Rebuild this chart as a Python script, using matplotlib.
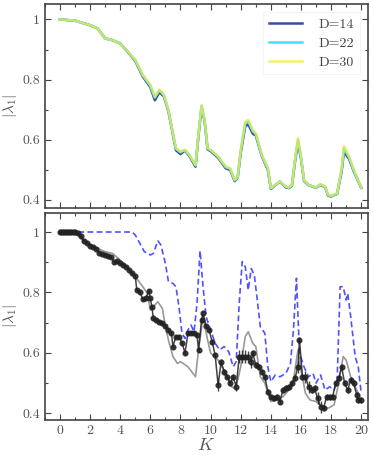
import numpy as np
import matplotlib
matplotlib.use("Agg")
import matplotlib.pyplot as plt
from matplotlib.ticker import MultipleLocator, FixedLocator

plt.rcParams['font.family'] = 'serif'
plt.rcParams['font.serif'] = ['cmr10', 'DejaVu Serif']
plt.rcParams['mathtext.fontset'] = 'cm'
plt.rcParams['axes.formatter.use_mathtext'] = True

# ---------------- top panel data ----------------
K_top = [0, 1, 2, 2.5, 3, 3.5, 4, 4.5, 5, 5.5, 6, 6.3, 6.6, 6.9, 7.2, 7.5, 7.7, 8, 8.3, 8.6,
         9, 9.2, 9.4, 9.6, 9.8, 10, 10.5, 11, 11.3, 11.6, 11.8, 12, 12.3, 12.5, 12.8, 13, 13.4,
         13.8, 14, 14.3, 14.6, 15, 15.2, 15.4, 15.6, 15.8, 16, 16.2, 16.5, 17, 17.3, 17.6, 17.8,
         18, 18.4, 18.7, 18.85, 19.2, 19.5, 20]
D30 = [1.0, 0.996, 0.981, 0.970, 0.937, 0.931, 0.920, 0.893, 0.865, 0.815, 0.782, 0.743, 0.767,
       0.749, 0.699, 0.621, 0.572, 0.560, 0.566, 0.549, 0.516, 0.621, 0.715, 0.666, 0.572, 0.566,
       0.544, 0.511, 0.505, 0.466, 0.477, 0.566, 0.660, 0.666, 0.632, 0.621, 0.549, 0.505, 0.439,
       0.450, 0.461, 0.444, 0.441, 0.450, 0.533, 0.605, 0.544, 0.466, 0.450, 0.441, 0.452, 0.444,
       0.417, 0.413, 0.422, 0.505, 0.579, 0.544, 0.500, 0.441]
D22 = [1.0, 0.996, 0.981, 0.970, 0.937, 0.931, 0.920, 0.893, 0.865, 0.814, 0.780, 0.740, 0.765,
       0.748, 0.698, 0.620, 0.570, 0.558, 0.566, 0.548, 0.514, 0.620, 0.713, 0.665, 0.571, 0.565,
       0.543, 0.509, 0.503, 0.465, 0.476, 0.563, 0.655, 0.661, 0.628, 0.619, 0.548, 0.504, 0.438,
       0.450, 0.461, 0.443, 0.440, 0.449, 0.530, 0.600, 0.542, 0.465, 0.450, 0.441, 0.451, 0.443,
       0.416, 0.412, 0.421, 0.500, 0.572, 0.540, 0.498, 0.441]
D14 = [1.0, 0.996, 0.981, 0.970, 0.937, 0.931, 0.920, 0.892, 0.862, 0.810, 0.775, 0.731, 0.758,
       0.744, 0.695, 0.617, 0.565, 0.552, 0.564, 0.545, 0.510, 0.615, 0.708, 0.662, 0.568, 0.562,
       0.540, 0.505, 0.499, 0.462, 0.474, 0.556, 0.645, 0.651, 0.620, 0.614, 0.545, 0.500, 0.436,
       0.449, 0.460, 0.441, 0.439, 0.447, 0.525, 0.590, 0.538, 0.463, 0.449, 0.440, 0.450, 0.442,
       0.414, 0.411, 0.420, 0.495, 0.560, 0.535, 0.495, 0.440]

# ---------------- bottom panel data ----------------
K_blue = [0, 1, 4.8, 5, 5.3, 5.6, 6, 6.2, 6.5, 6.7, 7, 7.2, 7.5, 7.7, 7.9, 8.1, 8.3, 8.5, 8.7, 8.9,
          9.1, 9.3, 9.5, 9.7, 10, 10.3, 10.6, 10.9, 11.2, 11.5, 11.7, 11.9, 12.1, 12.3, 12.5, 12.7,
          12.9, 13.1, 13.3, 13.6, 13.8, 14, 14.3, 14.6, 15, 15.3, 15.5, 15.7, 15.9, 16.2, 16.5,
          16.8, 17, 17.3, 17.6, 17.9, 18.2, 18.4, 18.6, 18.8, 19, 19.1, 19.3, 19.6, 19.8, 20]
blue = [1.0, 1.0, 1.0, 0.990, 0.963, 0.935, 0.924, 0.929, 0.971, 0.957, 0.896, 0.836, 0.830, 0.819,
        0.753, 0.665, 0.648, 0.676, 0.692, 0.670, 0.764, 0.938, 0.819, 0.720, 0.676, 0.632, 0.610,
        0.621, 0.604, 0.554, 0.571, 0.764, 0.902, 0.885, 0.808, 0.879, 0.858, 0.775, 0.687, 0.665,
        0.554, 0.505, 0.527, 0.521, 0.532, 0.565, 0.676, 0.847, 0.600, 0.554, 0.521, 0.532, 0.500,
        0.527, 0.477, 0.488, 0.477, 0.510, 0.819, 0.819, 0.775, 0.797, 0.720, 0.587, 0.554, 0.466]

K_gray = [0, 1, 1.5, 2, 2.5, 3, 3.5, 4, 4.5, 5, 5.5, 5.8, 6, 6.2, 6.5, 6.8, 7, 7.2, 7.5, 7.8, 8,
          8.5, 9, 9.2, 9.5, 9.8, 10, 10.5, 11, 11.4, 11.6, 11.8, 12, 12.3, 12.5, 12.8, 13, 13.3,
          13.6, 14, 14.4, 14.8, 15.2, 15.5, 15.8, 16, 16.3, 16.6, 17, 17.4, 17.8, 18.2, 18.5, 18.8,
          19, 19.3, 19.7, 20]
gray = [1.0, 1.0, 0.974, 0.957, 0.946, 0.935, 0.929, 0.907, 0.880, 0.852, 0.819, 0.797, 0.742,
        0.753, 0.769, 0.747, 0.687, 0.643, 0.588, 0.565, 0.571, 0.554, 0.521, 0.610, 0.720, 0.643,
        0.600, 0.576, 0.532, 0.488, 0.483, 0.510, 0.554, 0.654, 0.670, 0.632, 0.621, 0.521, 0.500,
        0.439, 0.444, 0.455, 0.477, 0.510, 0.610, 0.543, 0.466, 0.444, 0.439, 0.422, 0.417, 0.428,
        0.500, 0.588, 0.576, 0.521, 0.477, 0.444]

K_black = [0, 0.1, 0.2, 0.3, 0.4, 0.5, 0.6, 0.7, 0.8, 0.9, 1.0, 1.2, 1.4, 1.6, 1.8, 2.0, 2.2, 2.4,
           2.6, 2.8, 3.0, 3.2, 3.4, 3.6, 3.8, 4.0, 4.2, 4.4, 4.6, 4.8, 5.0, 5.1, 5.3, 5.5, 5.7, 5.9,
           6.0, 6.1, 6.2, 6.4, 6.6, 6.8, 7.0, 7.2, 7.4, 7.5, 7.7, 7.9, 8.1, 8.3, 8.5, 8.7, 8.9, 9.1,
           9.2, 9.4, 9.5, 9.7, 9.9, 10.1, 10.3, 10.5, 10.7, 10.9, 11.1, 11.3, 11.5, 11.7, 11.9, 12.1,
           12.3, 12.5, 12.7, 12.8, 13.0, 13.2, 13.4, 13.6, 13.8, 14.0, 14.2, 14.4, 14.6, 14.8, 15.0,
           15.2, 15.4, 15.6, 15.8, 15.9, 16.1, 16.3, 16.5, 16.7, 16.9, 17.1, 17.3, 17.5, 17.7, 17.9,
           18.1, 18.3, 18.5, 18.7, 18.9, 19.1, 19.3, 19.5, 19.7, 19.8, 20.0]
black = [1.0, 1.0, 1.0, 1.0, 1.0, 1.0, 1.0, 1.0, 1.0, 1.0, 1.0, 0.996, 0.987, 0.971, 0.965, 0.954,
         0.949, 0.943, 0.932, 0.927, 0.924, 0.921, 0.916, 0.902, 0.905, 0.896, 0.891, 0.885, 0.874,
         0.865, 0.854, 0.808, 0.803, 0.777, 0.780, 0.806, 0.780, 0.753, 0.714, 0.709, 0.703, 0.698,
         0.689, 0.676, 0.665, 0.621, 0.654, 0.654, 0.634, 0.600, 0.665, 0.667, 0.665, 0.659, 0.610,
         0.709, 0.731, 0.689, 0.676, 0.637, 0.593, 0.494, 0.571, 0.538, 0.521, 0.499, 0.521, 0.488,
         0.588, 0.588, 0.588, 0.585, 0.571, 0.599, 0.560, 0.554, 0.538, 0.521, 0.472, 0.455, 0.450,
         0.455, 0.439, 0.477, 0.483, 0.488, 0.499, 0.516, 0.554, 0.643, 0.521, 0.521, 0.488, 0.477,
         0.483, 0.450, 0.422, 0.417, 0.455, 0.455, 0.455, 0.499, 0.516, 0.554, 0.499, 0.477, 0.510,
         0.499, 0.461, 0.444, 0.444]
black_err = [0.0] * 11 + [0.003] * 20 + [0.006] * 30 + [0.02, 0.01, 0.01, 0.008, 0.01, 0.01,
             0.015, 0.02, 0.02, 0.02, 0.02, 0.02, 0.01, 0.01, 0.008, 0.01, 0.01, 0.01, 0.008,
             0.008, 0.01, 0.008, 0.01, 0.01, 0.01, 0.01, 0.01, 0.02, 0.01, 0.01, 0.02, 0.02,
             0.01, 0.01, 0.02, 0.02, 0.01, 0.01, 0.01, 0.01, 0.01, 0.01, 0.01, 0.01, 0.01, 0.01,
             0.01, 0.01, 0.01, 0.01]
black_err = black_err[:len(black)] + [0.01] * max(0, len(black) - len(black_err))

fig = plt.figure(figsize=(3.74, 4.58), dpi=100)
ax1 = fig.add_axes([0.120, 0.546, 0.864, 0.445])
ax2 = fig.add_axes([0.120, 0.083, 0.864, 0.452])

spine_col = '#444444'
tick_col = '#555555'

def style(ax, ylim):
    ax.set_xlim(-1.0, 20.45)
    ax.set_ylim(*ylim)
    ax.xaxis.set_major_locator(MultipleLocator(2))
    ax.xaxis.set_minor_locator(MultipleLocator(1))
    ax.yaxis.set_major_locator(FixedLocator([0.4, 0.6, 0.8, 1.0]))
    ax.yaxis.set_minor_locator(MultipleLocator(0.1))
    ax.tick_params(which='both', direction='in', top=True, right=True, color=spine_col,
                   labelcolor=tick_col, labelsize=10, width=0.8)
    ax.tick_params(which='major', length=4)
    ax.tick_params(which='minor', length=2.5)
    for s in ax.spines.values():
        s.set_color(spine_col)
        s.set_linewidth(1.2)
    ax.set_yticklabels(['0.4', '0.6', '0.8', '1'])
    ax.set_ylabel(r'$|\lambda_1|$', fontsize=11, color=tick_col, labelpad=2)

style(ax1, (0.373, 1.051))
style(ax2, (0.378, 1.063))

ax1.plot(K_top, D14, color='#3d4a9e', lw=1.8, label='D=14')
ax1.plot(K_top, D22, color='#3ee0f5', lw=1.8, label='D=22')
ax1.plot(K_top, D30, color='#f0ea40', lw=1.8, alpha=0.75, label='D=30')
ax1.tick_params(labelbottom=False)
leg = ax1.legend(loc='upper right', fontsize=10, frameon=True, fancybox=False,
                 handlelength=2.4, borderaxespad=0.6, labelspacing=0.45, handletextpad=1.2)
leg.get_frame().set_edgecolor('#f0f0f0')
leg.get_frame().set_linewidth(0.6)
for t in leg.get_texts():
    t.set_color('#444444')

ax2.plot(K_gray, gray, color='#999999', lw=1.2)
ax2.plot(K_blue, blue, color='#3333ff', lw=1.2, ls='--', dashes=(3.5, 2), alpha=0.85)
ax2.errorbar(K_black, black, yerr=black_err, color='#222222', lw=1.1, marker='o', ms=3.4,
             mec='#222222', mfc='#222222', elinewidth=1.0, capsize=0, alpha=0.85)
ax2.set_xticklabels([str(v) for v in range(-2, 23, 2)])
ax2.set_xlabel(r'$K$', fontsize=13, color=tick_col, labelpad=0)

fig.savefig('out.png', dpi=100)
